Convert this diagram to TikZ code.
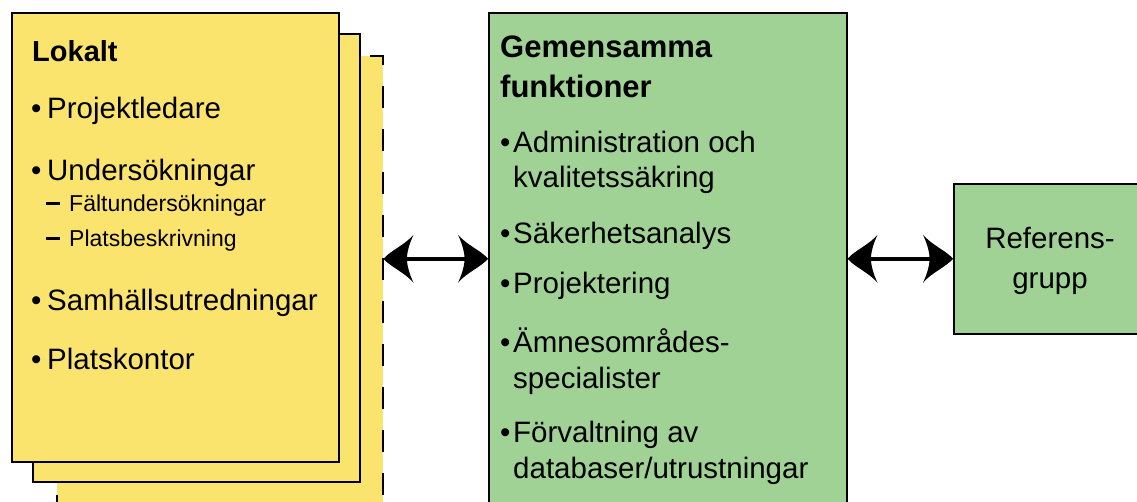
\documentclass[tikz,border=0pt]{standalone}
\usepackage{fontspec}
\setmainfont{Liberation Sans}
\usetikzlibrary{arrows.meta}

% swept, tulip-shaped arrow head
\pgfdeclarearrow{
  name = Tulip,
  parameters = {\the\pgfarrowlength,\the\pgfarrowwidth},
  setup code = {
    \pgfarrowssettipend{0pt}
    \pgfarrowssetbackend{-\pgfarrowlength}
    \pgfarrowssetlineend{-0.7\pgfarrowlength}
    \pgfarrowssavethe\pgfarrowlength
    \pgfarrowssavethe\pgfarrowwidth
  },
  drawing code = {
    \pgfpathmoveto{\pgfpointorigin}
    \pgfpathcurveto{\pgfpoint{-0.25\pgfarrowlength}{0.18\pgfarrowwidth}}{\pgfpoint{-0.7\pgfarrowlength}{0.28\pgfarrowwidth}}{\pgfpoint{-\pgfarrowlength}{0.5\pgfarrowwidth}}
    \pgfpathcurveto{\pgfpoint{-0.85\pgfarrowlength}{0.3\pgfarrowwidth}}{\pgfpoint{-0.78\pgfarrowlength}{0.12\pgfarrowwidth}}{\pgfpoint{-0.78\pgfarrowlength}{0pt}}
    \pgfpathcurveto{\pgfpoint{-0.78\pgfarrowlength}{-0.12\pgfarrowwidth}}{\pgfpoint{-0.85\pgfarrowlength}{-0.3\pgfarrowwidth}}{\pgfpoint{-\pgfarrowlength}{-0.5\pgfarrowwidth}}
    \pgfpathcurveto{\pgfpoint{-0.7\pgfarrowlength}{-0.28\pgfarrowwidth}}{\pgfpoint{-0.25\pgfarrowlength}{-0.18\pgfarrowwidth}}{\pgfpointorigin}
    \pgfpathclose
    \pgfusepathqfill
  },
  defaults = {length = 30pt, width = 48pt}
}

\definecolor{cardyellow}{RGB}{251,228,110}
\definecolor{boxgreen}{RGB}{160,210,150}

\tikzset{
  card/.style={draw=black, line width=1.5pt, fill=cardyellow, anchor=north west, inner sep=0pt},
  gbox/.style={draw=black, line width=1.5pt, fill=boxgreen, anchor=north west, inner sep=0pt},
  txt/.style={font=\fontsize{29.5}{35}\selectfont, inner sep=0pt, anchor=base west},
  head/.style={font=\fontsize{29}{35}\selectfont\bfseries, inner sep=0pt, anchor=base west},
  ghead/.style={font=\fontsize{31}{37}\selectfont\bfseries, inner sep=0pt, anchor=base west},
  sub/.style={font=\fontsize{23}{27}\selectfont, inner sep=0pt, anchor=base west},
  link/.style={line width=4.5pt, {Tulip}-{Tulip}}
}
\newcommand{\subdash}{\rule[6pt]{14pt}{2.8pt}}

\begin{document}
\begin{tikzpicture}[x=1pt, y=-1pt]
  \useasboundingbox (0,0) rectangle (1137,501);
  \clip (0,0) rectangle (1137,501);

  % stacked local cards
  \node[card, dash pattern=on 22pt off 21pt, minimum width=326pt, minimum height=500pt] (card3) at (56,55) {};
  \node[card, minimum width=327pt, minimum height=448pt] (card2) at (32,33) {};
  \node[card, minimum width=327pt, minimum height=449pt] (card1) at (11,12) {};

  % shared functions and reference group
  \node[gbox, minimum width=358pt, minimum height=520pt] (mid) at (488,12) {};
  \node[gbox, minimum width=194pt, minimum height=150pt] (ref) at (953,183) {};

  % local card text
  \node[head] (lokalt) at (32,61) {Lokalt};
  \node[txt] (b1) at (31,118) {\textbullet};
  \node[txt] (l1) at (47,118) {Projektledare};
  \node[txt] (b2) at (31,180) {\textbullet};
  \node[txt] (l2) at (47,180) {Undersökningar};
  \node[sub] (d1) at (46,211) {\subdash};
  \node[sub] (s1) at (69,211) {Fältundersökningar};
  \node[sub] (d2) at (46,246) {\subdash};
  \node[sub] (s2) at (69,246) {Platsbeskrivning};
  \node[txt] (b3) at (31,310) {\textbullet};
  \node[txt] (l3) at (47,310) {Samhällsutredningar};
  \node[txt] (b4) at (31,369) {\textbullet};
  \node[txt] (l4) at (47,369) {Platskontor};

  % shared functions text
  \node[ghead] (gem1) at (500,57) {Gemensamma};
  \node[ghead] (gem2) at (500,97) {funktioner};
  \node[txt] (gb1) at (500,152) {\textbullet};
  \node[txt] (g1a) at (513,152) {Administration och};
  \node[txt] (g1b) at (513,187) {kvalitetssäkring};
  \node[txt] (gb2) at (500,243) {\textbullet};
  \node[txt] (g2) at (513,243) {Säkerhetsanalys};
  \node[txt] (gb3) at (500,293) {\textbullet};
  \node[txt] (g3) at (513,293) {Projektering};
  \node[txt] (gb4) at (500,352) {\textbullet};
  \node[txt] (g4a) at (513,352) {Ämnesområdes-};
  \node[txt] (g4b) at (513,388) {specialister};
  \node[txt] (gb5) at (500,442) {\textbullet};
  \node[txt] (g5a) at (513,442) {Förvaltning av};
  \node[txt] (g5b) at (513,478) {databaser/utrustningar};

  % reference group text
  \node[txt, anchor=base] (r1) at (1050,248) {Referens-};
  \node[txt, anchor=base] (r2) at (1050,288) {grupp};

  % connectors
  \draw[link] (card3.east |- ref.west) -- (mid.west |- ref.west);
  \draw[link] (mid.east |- ref.west) -- (ref.west);
\end{tikzpicture}
\end{document}
